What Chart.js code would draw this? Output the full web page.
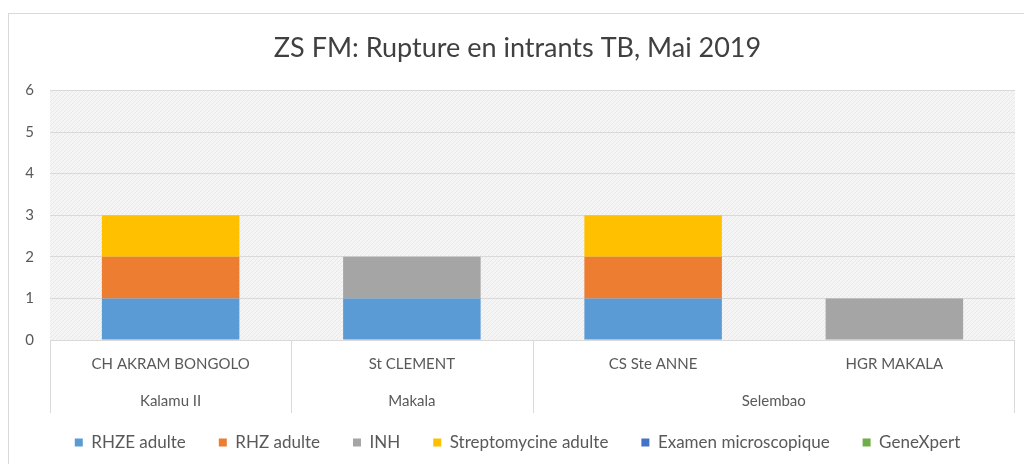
<!DOCTYPE html>
<html>
<head>
<meta charset="utf-8">
<script src="https://cdn.jsdelivr.net/npm/chart.js@4"></script>
<style>
  html, body { margin: 0; padding: 0; background: #fff; }
  #wrap { width: 1024px; height: 464px; }
</style>
</head>
<body>
<div id="wrap"><canvas id="chart" width="1024" height="464"></canvas></div>
<script>
// etablissements et zones de sante
var categories = ['CH AKRAM BONGOLO', 'St CLEMENT', 'CS Ste ANNE', 'HGR MAKALA'];
var zones = ['Kalamu II', 'Makala', 'Selembao', 'Selembao'];

// ruptures par intrant
var rhzeAdulte = [1, 1, 1, 0];
var rhzAdulte = [1, 0, 1, 0];
var inh = [0, 1, 0, 1];
var streptoAdulte = [1, 0, 1, 0];
var examenMicro = [0, 0, 0, 0];
var geneXpert = [0, 0, 0, 0];

var yTicks = [0, 1, 2, 3, 4, 5, 6];

var FONT = 'Lato, "Liberation Sans", sans-serif';
var TXT = '#595959';

// fond hachuré de la zone de tracé
function makePattern() {
  var c = document.createElement('canvas');
  c.width = 4; c.height = 4;
  var g = c.getContext('2d');
  g.fillStyle = '#f5f5f5';
  g.fillRect(0, 0, 4, 4);
  g.fillStyle = '#e8e8e8';
  g.fillRect(0, 3, 1, 1);
  g.fillRect(1, 2, 1, 1);
  g.fillRect(2, 1, 1, 1);
  g.fillRect(3, 0, 1, 1);
  return g.createPattern(c, 'repeat');
}

var backgroundPlugin = {
  id: 'bg',
  beforeDraw: function (chart) {
    var ctx = chart.ctx, a = chart.chartArea;
    ctx.save();
    // cadre du graphique
    ctx.strokeStyle = '#d9d9d9';
    ctx.lineWidth = 1;
    ctx.strokeRect(8.5, 13.5, 1030, 470);
    ctx.fillStyle = makePattern();
    ctx.fillRect(a.left, a.top, a.right - a.left, a.bottom - a.top);
    ctx.restore();
  }
};

// axe x à deux niveaux (établissement / zone)
var groupAxisPlugin = {
  id: 'groupAxis',
  afterDraw: function (chart) {
    var ctx = chart.ctx, x = chart.scales.x, a = chart.chartArea;
    var top = a.bottom, row1 = top + 24, row2 = top + 61, bottom = top + 73;
    var n = categories.length;
    var half = (x.getPixelForValue(1) - x.getPixelForValue(0)) / 2;
    ctx.save();
    ctx.strokeStyle = '#d9d9d9';
    ctx.lineWidth = 1;
    ctx.beginPath();
    ctx.moveTo(a.left, top + 0.5); ctx.lineTo(a.right, top + 0.5);
    ctx.stroke();
    ctx.font = '15px ' + FONT;
    ctx.fillStyle = TXT;
    ctx.textAlign = 'center';
    ctx.textBaseline = 'middle';
    var start = 0;
    for (var i = 0; i < n; i++) {
      var cx = x.getPixelForValue(i);
      ctx.fillText(categories[i], cx, row1);
      var edge = Math.round(cx - half) + 0.5;
      if (i === 0 || zones[i] !== zones[i - 1]) {
        ctx.beginPath(); ctx.moveTo(edge, top); ctx.lineTo(edge, bottom); ctx.stroke();
      }
      if (i === n - 1 || zones[i + 1] !== zones[i]) {
        var x0 = x.getPixelForValue(start) - half, x1 = cx + half;
        ctx.fillText(zones[i], (x0 + x1) / 2, row2);
        start = i + 1;
      }
    }
    var r = Math.round(x.getPixelForValue(n - 1) + half) - 0.5;
    ctx.beginPath(); ctx.moveTo(r, top); ctx.lineTo(r, bottom); ctx.stroke();
    ctx.restore();
  }
};

function ds(label, values, color) {
  return { label: label, data: values, backgroundColor: color, borderWidth: 0,
           barPercentage: 0.57, categoryPercentage: 1 };
}

var data = {
  labels: categories,
  datasets: [
    ds('RHZE adulte', rhzeAdulte, '#5b9bd5'),
    ds('RHZ adulte', rhzAdulte, '#ed7d31'),
    ds('INH', inh, '#a5a5a5'),
    ds('Streptomycine adulte', streptoAdulte, '#ffc000'),
    ds('Examen microscopique', examenMicro, '#4472c4'),
    ds('GeneXpert', geneXpert, '#70ad47')
  ]
};

var options = {
  responsive: false,
  animation: false,
  layout: { padding: { left: 20, right: 9, top: 32, bottom: 3 } },
  plugins: {
    title: {
      display: true,
      text: 'ZS FM: Rupture en intrants TB, Mai 2019',
      color: '#404040',
      font: { family: FONT, size: 27, weight: 'normal' },
      padding: { top: 0, bottom: 26 }
    },
    legend: {
      position: 'bottom',
      labels: {
        color: TXT,
        font: { family: FONT, size: 17 },
        boxWidth: 8,
        boxHeight: 8,
        padding: 33
      }
    },
    tooltip: { enabled: false }
  },
  scales: {
    x: {
      stacked: true,
      grid: { display: false },
      border: { display: false },
      ticks: { display: false },
      afterFit: function (s) { s.height = 61; }
    },
    y: {
      stacked: true,
      min: 0,
      max: 6,
      afterBuildTicks: function (s) { s.ticks = yTicks.map(function (v) { return { value: v }; }); },
      grid: { color: '#d9d9d9', drawTicks: false },
      border: { display: false },
      ticks: { color: TXT, font: { family: FONT, size: 15 }, padding: 16 },
      afterFit: function (s) { s.width = 30; }
    }
  }
};

new Chart(document.getElementById('chart'), {
  type: 'bar',
  data: data,
  options: options,
  plugins: [backgroundPlugin, groupAxisPlugin]
});
</script>
</body>
</html>
